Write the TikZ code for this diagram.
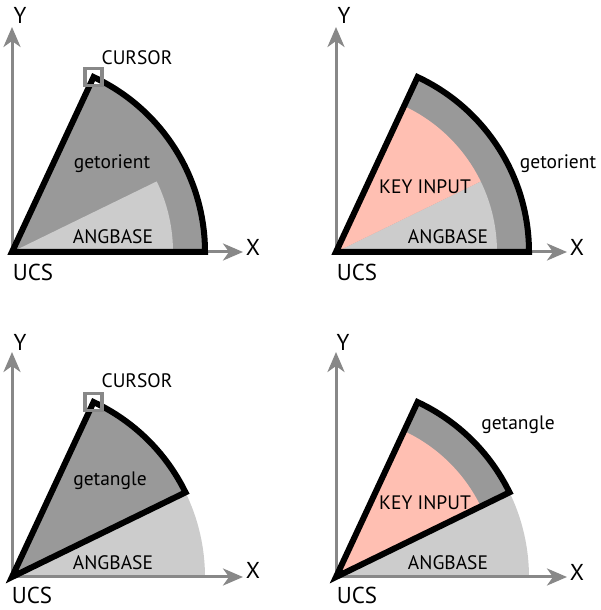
\documentclass[tikz,border=0pt]{standalone}
\usepackage{fontspec}
\setmainfont{PT Sans}
\usetikzlibrary{arrows.meta}
\definecolor{sectorgray}{HTML}{999999}
\definecolor{basegray}{HTML}{CCCCCC}
\definecolor{keypink}{HTML}{FFBFB2}
\definecolor{axisgray}{HTML}{888888}
\tikzset{
  axis/.style={axisgray,line width=3pt,-{Stealth[length=20pt,width=17pt,inset=6pt]}},
  outline/.style={black,line width=6pt,line join=miter},
  cursorbox/.style={fill=white,minimum size=17pt,inner sep=0pt,outer sep=0pt},
  boxline/.style={axisgray,line width=3.5pt},
  lbl/.style={font=\fontsize{19.5}{22}\selectfont,inner sep=0pt},
  axlbl/.style={font=\fontsize{23}{26}\selectfont,inner sep=0pt}
}
\begin{document}
\begin{tikzpicture}[x=1pt,y=1pt]
\useasboundingbox (0,0) rectangle (600,610);

% top left
\begin{scope}[shift={(12,358)}]
\coordinate (O1) at (0,0);
\coordinate (Yend1) at (0,225);
\coordinate (Xend1) at (231,0);
\draw[axis] (O1) -- (Yend1);
\draw[axis] (O1) -- (Xend1);
\fill[sectorgray] (O1) -- (0:193pt) arc[start angle=0,end angle=65,radius=193pt] -- cycle;
\fill[basegray] (O1) -- (0:161pt) arc[start angle=0,end angle=26,radius=161pt] -- cycle;
\draw[outline] (O1) -- (0:193pt) arc[start angle=0,end angle=65,radius=193pt] -- cycle;
\node[cursorbox] (box1) at (65:193pt) {};
\begin{scope}
\clip (box1.south west) rectangle (box1.north east);
\draw[outline] (O1) -- (0:193pt) arc[start angle=0,end angle=65,radius=193pt] -- cycle;
\end{scope}
\draw[boxline] (box1.south west) rectangle (box1.north east);
\node[axlbl] (Y1) at (8,237) {Y};
\node[axlbl] (X1) at (241,5) {X};
\node[axlbl] (UCS1) at (21,-20) {UCS};
\node[lbl] (cur1) at (125,194) {CURSOR};
\node[lbl] (get1) at (100,88) {getorient};
\node[lbl] (base1) at (101,15) {ANGBASE};
\end{scope}

% top right
\begin{scope}[shift={(336,358)}]
\coordinate (O2) at (0,0);
\coordinate (Yend2) at (0,225);
\coordinate (Xend2) at (231,0);
\draw[axis] (O2) -- (Yend2);
\draw[axis] (O2) -- (Xend2);
\fill[sectorgray] (O2) -- (0:193pt) arc[start angle=0,end angle=65,radius=193pt] -- cycle;
\fill[basegray] (O2) -- (0:161pt) arc[start angle=0,end angle=26,radius=161pt] -- cycle;
\fill[keypink] (O2) -- (26:161pt) arc[start angle=26,end angle=65,radius=161pt] -- cycle;
\draw[outline] (O2) -- (0:193pt) arc[start angle=0,end angle=65,radius=193pt] -- cycle;
\node[axlbl] (Y2) at (8,237) {Y};
\node[axlbl] (X2) at (241,5) {X};
\node[axlbl] (UCS2) at (21,-20) {UCS};
\node[lbl] (get2) at (222,88) {getorient};
\node[lbl] (key2) at (89,65) {KEY INPUT};
\node[lbl] (base2) at (112,15) {ANGBASE};
\end{scope}

% bottom left
\begin{scope}[shift={(12,33)}]
\coordinate (O3) at (0,0);
\coordinate (Yend3) at (0,225);
\coordinate (Xend3) at (231,0);
\draw[axis] (O3) -- (Yend3);
\fill[basegray] (O3) -- (0:193pt) arc[start angle=0,end angle=26,radius=193pt] -- cycle;
\draw[axis] (O3) -- (Xend3);
\fill[sectorgray] (O3) -- (26:193pt) arc[start angle=26,end angle=65,radius=193pt] -- cycle;
\draw[outline] (O3) -- (26:193pt) arc[start angle=26,end angle=65,radius=193pt] -- cycle;
\node[cursorbox] (box3) at (65:193pt) {};
\begin{scope}
\clip (box3.south west) rectangle (box3.north east);
\draw[outline] (O3) -- (26:193pt) arc[start angle=26,end angle=65,radius=193pt] -- cycle;
\end{scope}
\draw[boxline] (box3.south west) rectangle (box3.north east);
\node[axlbl] (Y3) at (8,235) {Y};
\node[axlbl] (X3) at (241,7) {X};
\node[axlbl] (UCS3) at (20,-18) {UCS};
\node[lbl] (cur3) at (125,196) {CURSOR};
\node[lbl] (get3) at (98,96) {getangle};
\node[lbl] (base3) at (101,14) {ANGBASE};
\end{scope}

% bottom right
\begin{scope}[shift={(336,33)}]
\coordinate (O4) at (0,0);
\coordinate (Yend4) at (0,225);
\coordinate (Xend4) at (231,0);
\draw[axis] (O4) -- (Yend4);
\fill[basegray] (O4) -- (0:193pt) arc[start angle=0,end angle=26,radius=193pt] -- cycle;
\draw[axis] (O4) -- (Xend4);
\fill[sectorgray] (O4) -- (26:193pt) arc[start angle=26,end angle=65,radius=193pt] -- cycle;
\fill[keypink] (O4) -- (26:161pt) arc[start angle=26,end angle=65,radius=161pt] -- cycle;
\draw[outline] (O4) -- (26:193pt) arc[start angle=26,end angle=65,radius=193pt] -- cycle;
\node[axlbl] (Y4) at (7,235) {Y};
\node[axlbl] (X4) at (241,5) {X};
\node[axlbl] (UCS4) at (21,-18) {UCS};
\node[lbl] (get4) at (182,152) {getangle};
\node[lbl] (key4) at (89,74) {KEY INPUT};
\node[lbl] (base4) at (112,14) {ANGBASE};
\end{scope}
\end{tikzpicture}
\end{document}
